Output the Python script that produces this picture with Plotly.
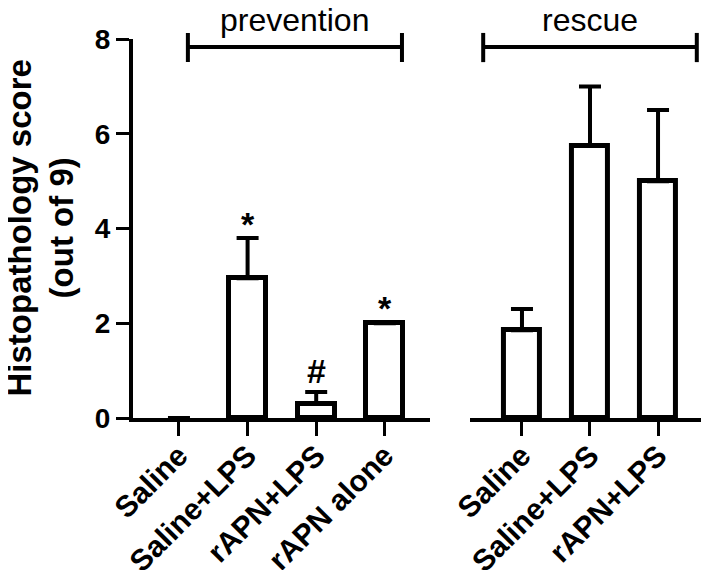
import plotly.graph_objects as go

# prevention group
prev_labels = ["Saline", "Saline+LPS", "rAPN+LPS", "rAPN alone"]
prev_means = [0, 2.95, 0.3, 2.0]
prev_err = [0, 0.85, 0.25, 0]
prev_marks = ["", "*", "#", "*"]

# rescue group
resc_labels = ["Saline", "Saline+LPS", "rAPN+LPS"]
resc_means = [1.85, 5.75, 5.0]
resc_err = [0.45, 1.25, 1.5]

FONT = "Arial, Liberation Sans, sans-serif"
BLK = "black"

def bar_trace(labels, means, err, xa):
    return go.Bar(
        x=list(range(len(labels))), y=means, xaxis=xa, yaxis="y",
        width=0.54,
        marker=dict(color="white", line=dict(color=BLK, width=[5 if m > 0 else 0 for m in means])),
        error_y=dict(type="data", array=err, arrayminus=[0]*len(err), symmetric=False,
                     color=BLK, thickness=4, width=11),
        showlegend=False, hoverinfo="y",
    )

fig = go.Figure()
fig.add_trace(bar_trace(prev_labels, prev_means, prev_err, "x"))
fig.add_trace(bar_trace(resc_labels, resc_means, resc_err, "x2"))

xcommon = dict(showline=True, linecolor=BLK, linewidth=4, ticks="outside", ticklen=14,
               tickwidth=3, tickcolor=BLK, tickangle=-45, showgrid=False, zeroline=False,
               automargin=False, ticklabelstandoff=-10,
               tickfont=dict(family=FONT, size=30, color=BLK, weight="bold"))

# page body has an 8px margin, so the figure is 8px smaller each way
fig.update_layout(
    width=701, height=562,
    margin=dict(l=125, r=2, t=31, b=152),
    plot_bgcolor="white", paper_bgcolor="white",
    bargap=0,
    xaxis=dict(domain=[0, 0.517], range=[-0.67, 3.655], anchor="y",
               tickmode="array", tickvals=list(range(len(prev_labels))), ticktext=prev_labels, **xcommon),
    xaxis2=dict(domain=[0.587, 1], range=[-0.765, 2.72], anchor="y",
                tickmode="array", tickvals=list(range(len(resc_labels))), ticktext=resc_labels, **xcommon),
    yaxis=dict(range=[0, 8], anchor="x", showline=True, linecolor=BLK, linewidth=4,
               ticks="outside", ticklen=13, tickwidth=3, tickcolor=BLK,
               tickvals=[0, 2, 4, 6, 8], showgrid=False, zeroline=False, automargin=False,
               tickfont=dict(family=FONT, size=28, color=BLK, weight="bold")),
)

# y title
fig.add_annotation(text="<b>Histopathology score<br>(out of 9)</b>", textangle=-90,
                   xref="paper", yref="paper", x=-0.162, y=0.5, xanchor="center", yanchor="middle",
                   showarrow=False, font=dict(family=FONT, size=33, color=BLK))

# significance marks
mark_y = [0, 4.1, 1.0, 2.33]
for i, m in enumerate(prev_marks):
    if m:
        fig.add_annotation(text="<b>%s</b>" % m, x=i, y=mark_y[i], xref="x", yref="y",
                           showarrow=False, font=dict(family=FONT, size=34, color=BLK))

# group brackets
groups = [("prevention", "x", 0.13, 3.25), ("rescue", "x2", -0.57, 2.57)]
for name, xr, x0, x1 in groups:
    fig.add_shape(type="line", xref=xr, yref="paper", x0=x0, x1=x1, y0=0.979, y1=0.979,
                  line=dict(color=BLK, width=4))
    for xe in (x0, x1):
        fig.add_shape(type="line", xref=xr, yref="paper", x0=xe, x1=xe, y0=0.939, y1=1.016,
                      line=dict(color=BLK, width=4))
    fig.add_annotation(text=name, xref=xr, yref="paper", x=(x0 + x1) / 2, y=1.05,
                       yanchor="middle", showarrow=False,
                       font=dict(family=FONT, size=32, color=BLK))

fig.write_html("out.html")
